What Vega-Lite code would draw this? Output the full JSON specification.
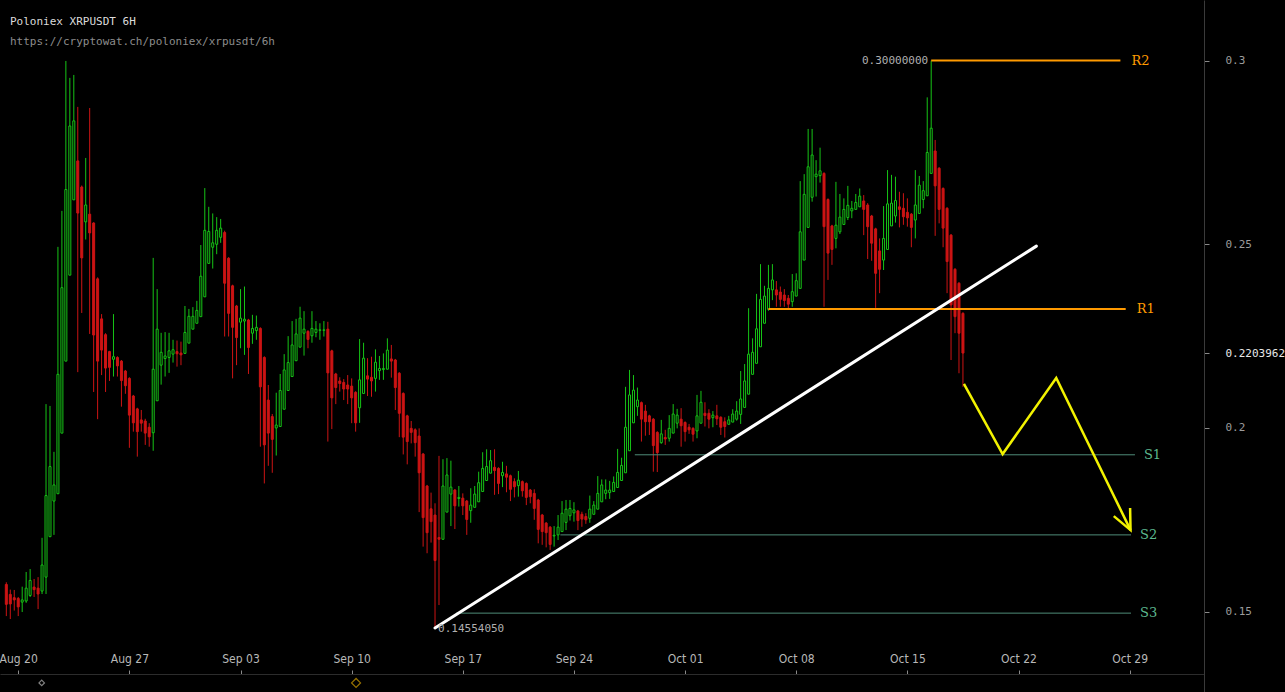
{
  "$schema": "https://vega.github.io/schema/vega-lite/v6.json",
  "width": 1204,
  "height": 692,
  "autosize": {"type": "none"},
  "padding": {"left": 0, "top": 0, "right": 81, "bottom": 0},
  "background": "#000000",
  "config": {"view": {"stroke": null}, "axis": {"grid": false}},
  "title": {
    "text": "Poloniex XRPUSDT 6H",
    "subtitle": "https://cryptowat.ch/poloniex/xrpusdt/6h",
    "anchor": "start",
    "frame": "group",
    "orient": "top",
    "offset": -47,
    "dx": 10,
    "font": "DejaVu Sans Mono",
    "fontSize": 11,
    "fontWeight": "normal",
    "color": "#dcdcdc",
    "subtitleFont": "DejaVu Sans Mono",
    "subtitleFontSize": 11,
    "subtitleColor": "#8c8c8c",
    "subtitlePadding": 9
  },
  "datasets": {
    "candles": [
      {"t":"2018-08-19T06:00Z","o":0.1574,"h":0.1580,"l":0.1488,"c":0.1520},
      {"t":"2018-08-19T12:00Z","o":0.1547,"h":0.1560,"l":0.1480,"c":0.1521},
      {"t":"2018-08-19T18:00Z","o":0.1538,"h":0.1559,"l":0.1503,"c":0.1532},
      {"t":"2018-08-20T00:00Z","o":0.1536,"h":0.1540,"l":0.1488,"c":0.1513},
      {"t":"2018-08-20T06:00Z","o":0.1526,"h":0.1568,"l":0.1499,"c":0.1532},
      {"t":"2018-08-20T12:00Z","o":0.1529,"h":0.1608,"l":0.1524,"c":0.1564},
      {"t":"2018-08-20T18:00Z","o":0.1544,"h":0.1616,"l":0.1540,"c":0.1585},
      {"t":"2018-08-21T00:00Z","o":0.1567,"h":0.1589,"l":0.1540,"c":0.1560},
      {"t":"2018-08-21T06:00Z","o":0.1564,"h":0.1594,"l":0.1507,"c":0.1548},
      {"t":"2018-08-21T12:00Z","o":0.1556,"h":0.1701,"l":0.1548,"c":0.1627},
      {"t":"2018-08-21T18:00Z","o":0.1594,"h":0.2065,"l":0.1548,"c":0.1816},
      {"t":"2018-08-22T00:00Z","o":0.1704,"h":0.2060,"l":0.1704,"c":0.1895},
      {"t":"2018-08-22T06:00Z","o":0.1801,"h":0.1935,"l":0.1709,"c":0.1845},
      {"t":"2018-08-22T12:00Z","o":0.1821,"h":0.2493,"l":0.1821,"c":0.2146},
      {"t":"2018-08-22T18:00Z","o":0.1986,"h":0.2591,"l":0.1986,"c":0.2382},
      {"t":"2018-08-23T00:00Z","o":0.2182,"h":0.2999,"l":0.2182,"c":0.2649},
      {"t":"2018-08-23T06:00Z","o":0.2416,"h":0.2953,"l":0.2416,"c":0.2822},
      {"t":"2018-08-23T12:00Z","o":0.2621,"h":0.2961,"l":0.2621,"c":0.2836},
      {"t":"2018-08-23T18:00Z","o":0.2727,"h":0.2874,"l":0.2152,"c":0.2585},
      {"t":"2018-08-24T00:00Z","o":0.2656,"h":0.2660,"l":0.2313,"c":0.2463},
      {"t":"2018-08-24T06:00Z","o":0.2561,"h":0.2735,"l":0.2513,"c":0.2607},
      {"t":"2018-08-24T12:00Z","o":0.2582,"h":0.2871,"l":0.2256,"c":0.2531},
      {"t":"2018-08-24T18:00Z","o":0.2558,"h":0.2560,"l":0.2098,"c":0.2253},
      {"t":"2018-08-25T00:00Z","o":0.2406,"h":0.2410,"l":0.2024,"c":0.2182},
      {"t":"2018-08-25T06:00Z","o":0.2297,"h":0.2310,"l":0.2144,"c":0.2212},
      {"t":"2018-08-25T12:00Z","o":0.2254,"h":0.2258,"l":0.2098,"c":0.2163},
      {"t":"2018-08-25T18:00Z","o":0.2208,"h":0.2210,"l":0.2128,"c":0.2165},
      {"t":"2018-08-26T00:00Z","o":0.2187,"h":0.2310,"l":0.2140,"c":0.2194},
      {"t":"2018-08-26T06:00Z","o":0.2192,"h":0.2195,"l":0.2140,"c":0.2169},
      {"t":"2018-08-26T12:00Z","o":0.2182,"h":0.2185,"l":0.2058,"c":0.2129},
      {"t":"2018-08-26T18:00Z","o":0.2155,"h":0.2158,"l":0.2093,"c":0.2115},
      {"t":"2018-08-27T00:00Z","o":0.2135,"h":0.2138,"l":0.1946,"c":0.2035},
      {"t":"2018-08-27T06:00Z","o":0.2087,"h":0.2090,"l":0.1990,"c":0.2014},
      {"t":"2018-08-27T12:00Z","o":0.2052,"h":0.2055,"l":0.1922,"c":0.1990},
      {"t":"2018-08-27T18:00Z","o":0.2022,"h":0.2049,"l":0.1990,"c":0.2013},
      {"t":"2018-08-28T00:00Z","o":0.2019,"h":0.2025,"l":0.1954,"c":0.1986},
      {"t":"2018-08-28T06:00Z","o":0.2002,"h":0.2013,"l":0.1949,"c":0.1976},
      {"t":"2018-08-28T12:00Z","o":0.1987,"h":0.2463,"l":0.1938,"c":0.2160},
      {"t":"2018-08-28T18:00Z","o":0.2074,"h":0.2378,"l":0.2074,"c":0.2269},
      {"t":"2018-08-29T00:00Z","o":0.2171,"h":0.2259,"l":0.2118,"c":0.2206},
      {"t":"2018-08-29T06:00Z","o":0.2189,"h":0.2261,"l":0.2140,"c":0.2196},
      {"t":"2018-08-29T12:00Z","o":0.2192,"h":0.2259,"l":0.2150,"c":0.2210},
      {"t":"2018-08-29T18:00Z","o":0.2201,"h":0.2240,"l":0.2178,"c":0.2213},
      {"t":"2018-08-30T00:00Z","o":0.2208,"h":0.2238,"l":0.2167,"c":0.2202},
      {"t":"2018-08-30T06:00Z","o":0.2204,"h":0.2235,"l":0.2171,"c":0.2199},
      {"t":"2018-08-30T12:00Z","o":0.2203,"h":0.2332,"l":0.2203,"c":0.2260},
      {"t":"2018-08-30T18:00Z","o":0.2231,"h":0.2324,"l":0.2231,"c":0.2304},
      {"t":"2018-08-31T00:00Z","o":0.2269,"h":0.2329,"l":0.2269,"c":0.2304},
      {"t":"2018-08-31T06:00Z","o":0.2285,"h":0.2346,"l":0.2285,"c":0.2320},
      {"t":"2018-08-31T12:00Z","o":0.2303,"h":0.2498,"l":0.2303,"c":0.2413},
      {"t":"2018-08-31T18:00Z","o":0.2357,"h":0.2653,"l":0.2357,"c":0.2538},
      {"t":"2018-09-01T00:00Z","o":0.2448,"h":0.2602,"l":0.2448,"c":0.2535},
      {"t":"2018-09-01T06:00Z","o":0.2492,"h":0.2584,"l":0.2434,"c":0.2504},
      {"t":"2018-09-01T12:00Z","o":0.2500,"h":0.2574,"l":0.2473,"c":0.2538},
      {"t":"2018-09-01T18:00Z","o":0.2519,"h":0.2569,"l":0.2504,"c":0.2544},
      {"t":"2018-09-02T00:00Z","o":0.2532,"h":0.2537,"l":0.2249,"c":0.2394},
      {"t":"2018-09-02T06:00Z","o":0.2462,"h":0.2465,"l":0.2249,"c":0.2312},
      {"t":"2018-09-02T12:00Z","o":0.2387,"h":0.2390,"l":0.2135,"c":0.2274},
      {"t":"2018-09-02T18:00Z","o":0.2332,"h":0.2335,"l":0.2171,"c":0.2246},
      {"t":"2018-09-03T00:00Z","o":0.2288,"h":0.2378,"l":0.2217,"c":0.2299},
      {"t":"2018-09-03T06:00Z","o":0.2291,"h":0.2385,"l":0.2199,"c":0.2296},
      {"t":"2018-09-03T12:00Z","o":0.2294,"h":0.2297,"l":0.2147,"c":0.2219},
      {"t":"2018-09-03T18:00Z","o":0.2258,"h":0.2308,"l":0.2229,"c":0.2271},
      {"t":"2018-09-04T00:00Z","o":0.2265,"h":0.2306,"l":0.2240,"c":0.2274},
      {"t":"2018-09-04T06:00Z","o":0.2271,"h":0.2274,"l":0.1949,"c":0.2112},
      {"t":"2018-09-04T12:00Z","o":0.2192,"h":0.2195,"l":0.1849,"c":0.1954},
      {"t":"2018-09-04T18:00Z","o":0.2076,"h":0.2117,"l":0.1897,"c":0.1986},
      {"t":"2018-09-05T00:00Z","o":0.2031,"h":0.2038,"l":0.1878,"c":0.1969},
      {"t":"2018-09-05T06:00Z","o":0.2000,"h":0.2096,"l":0.1925,"c":0.2008},
      {"t":"2018-09-05T12:00Z","o":0.2004,"h":0.2147,"l":0.2004,"c":0.2102},
      {"t":"2018-09-05T18:00Z","o":0.2051,"h":0.2201,"l":0.2051,"c":0.2158},
      {"t":"2018-09-06T00:00Z","o":0.2102,"h":0.2250,"l":0.2102,"c":0.2178},
      {"t":"2018-09-06T06:00Z","o":0.2140,"h":0.2291,"l":0.2140,"c":0.2226},
      {"t":"2018-09-06T12:00Z","o":0.2183,"h":0.2297,"l":0.2183,"c":0.2256},
      {"t":"2018-09-06T18:00Z","o":0.2220,"h":0.2330,"l":0.2220,"c":0.2299},
      {"t":"2018-09-07T00:00Z","o":0.2258,"h":0.2318,"l":0.2197,"c":0.2269},
      {"t":"2018-09-07T06:00Z","o":0.2263,"h":0.2266,"l":0.2217,"c":0.2241},
      {"t":"2018-09-07T12:00Z","o":0.2251,"h":0.2318,"l":0.2232,"c":0.2271},
      {"t":"2018-09-07T18:00Z","o":0.2260,"h":0.2291,"l":0.2247,"c":0.2269},
      {"t":"2018-09-08T00:00Z","o":0.2266,"h":0.2285,"l":0.2240,"c":0.2267},
      {"t":"2018-09-08T06:00Z","o":0.2266,"h":0.2291,"l":0.2249,"c":0.2267},
      {"t":"2018-09-08T12:00Z","o":0.2269,"h":0.2289,"l":0.1963,"c":0.2150},
      {"t":"2018-09-08T18:00Z","o":0.2210,"h":0.2213,"l":0.1997,"c":0.2082},
      {"t":"2018-09-09T00:00Z","o":0.2147,"h":0.2150,"l":0.2065,"c":0.2110},
      {"t":"2018-09-09T06:00Z","o":0.2128,"h":0.2138,"l":0.2099,"c":0.2121},
      {"t":"2018-09-09T12:00Z","o":0.2124,"h":0.2133,"l":0.2076,"c":0.2106},
      {"t":"2018-09-09T18:00Z","o":0.2117,"h":0.2144,"l":0.2065,"c":0.2106},
      {"t":"2018-09-10T00:00Z","o":0.2114,"h":0.2135,"l":0.2013,"c":0.2082},
      {"t":"2018-09-10T06:00Z","o":0.2097,"h":0.2100,"l":0.1990,"c":0.2014},
      {"t":"2018-09-10T12:00Z","o":0.2055,"h":0.2242,"l":0.2014,"c":0.2131},
      {"t":"2018-09-10T18:00Z","o":0.2094,"h":0.2232,"l":0.2094,"c":0.2190},
      {"t":"2018-09-11T00:00Z","o":0.2142,"h":0.2190,"l":0.2087,"c":0.2133},
      {"t":"2018-09-11T06:00Z","o":0.2138,"h":0.2194,"l":0.2085,"c":0.2128},
      {"t":"2018-09-11T12:00Z","o":0.2135,"h":0.2214,"l":0.2099,"c":0.2179},
      {"t":"2018-09-11T18:00Z","o":0.2156,"h":0.2196,"l":0.2131,"c":0.2162},
      {"t":"2018-09-12T00:00Z","o":0.2159,"h":0.2203,"l":0.2131,"c":0.2162},
      {"t":"2018-09-12T06:00Z","o":0.2160,"h":0.2244,"l":0.2160,"c":0.2212},
      {"t":"2018-09-12T12:00Z","o":0.2188,"h":0.2226,"l":0.2137,"c":0.2182},
      {"t":"2018-09-12T18:00Z","o":0.2185,"h":0.2188,"l":0.2049,"c":0.2110},
      {"t":"2018-09-13T00:00Z","o":0.2149,"h":0.2152,"l":0.1975,"c":0.2040},
      {"t":"2018-09-13T06:00Z","o":0.2094,"h":0.2097,"l":0.1928,"c":0.1975},
      {"t":"2018-09-13T12:00Z","o":0.2033,"h":0.2036,"l":0.1901,"c":0.1963},
      {"t":"2018-09-13T18:00Z","o":0.1999,"h":0.2019,"l":0.1958,"c":0.1988},
      {"t":"2018-09-14T00:00Z","o":0.1995,"h":0.1999,"l":0.1922,"c":0.1960},
      {"t":"2018-09-14T06:00Z","o":0.1978,"h":0.1999,"l":0.1771,"c":0.1878},
      {"t":"2018-09-14T12:00Z","o":0.1929,"h":0.1932,"l":0.1677,"c":0.1756},
      {"t":"2018-09-14T18:00Z","o":0.1842,"h":0.1845,"l":0.1659,"c":0.1715},
      {"t":"2018-09-15T00:00Z","o":0.1780,"h":0.1824,"l":0.1688,"c":0.1745},
      {"t":"2018-09-15T06:00Z","o":0.1763,"h":0.1795,"l":0.1455405,"c":0.1639},
      {"t":"2018-09-15T12:00Z","o":0.1702,"h":0.1924,"l":0.1518,"c":0.1697},
      {"t":"2018-09-15T18:00Z","o":0.1697,"h":0.1915,"l":0.1697,"c":0.1842},
      {"t":"2018-09-16T00:00Z","o":0.1771,"h":0.1918,"l":0.1771,"c":0.1872},
      {"t":"2018-09-16T06:00Z","o":0.1820,"h":0.1911,"l":0.1733,"c":0.1839},
      {"t":"2018-09-16T12:00Z","o":0.1831,"h":0.1834,"l":0.1725,"c":0.1788},
      {"t":"2018-09-16T18:00Z","o":0.1808,"h":0.1842,"l":0.1786,"c":0.1811},
      {"t":"2018-09-17T00:00Z","o":0.1809,"h":0.1822,"l":0.1763,"c":0.1788},
      {"t":"2018-09-17T06:00Z","o":0.1801,"h":0.1804,"l":0.1709,"c":0.1751},
      {"t":"2018-09-17T12:00Z","o":0.1775,"h":0.1836,"l":0.1742,"c":0.1790},
      {"t":"2018-09-17T18:00Z","o":0.1784,"h":0.1842,"l":0.1784,"c":0.1820},
      {"t":"2018-09-18T00:00Z","o":0.1799,"h":0.1881,"l":0.1799,"c":0.1851},
      {"t":"2018-09-18T06:00Z","o":0.1827,"h":0.1934,"l":0.1827,"c":0.1890},
      {"t":"2018-09-18T12:00Z","o":0.1857,"h":0.1942,"l":0.1857,"c":0.1895},
      {"t":"2018-09-18T18:00Z","o":0.1877,"h":0.1940,"l":0.1877,"c":0.1911},
      {"t":"2018-09-19T00:00Z","o":0.1893,"h":0.1942,"l":0.1818,"c":0.1884},
      {"t":"2018-09-19T06:00Z","o":0.1890,"h":0.1893,"l":0.1820,"c":0.1849},
      {"t":"2018-09-19T12:00Z","o":0.1870,"h":0.1908,"l":0.1839,"c":0.1879},
      {"t":"2018-09-19T18:00Z","o":0.1875,"h":0.1897,"l":0.1825,"c":0.1866},
      {"t":"2018-09-20T00:00Z","o":0.1870,"h":0.1873,"l":0.1801,"c":0.1833},
      {"t":"2018-09-20T06:00Z","o":0.1854,"h":0.1863,"l":0.1811,"c":0.1840},
      {"t":"2018-09-20T12:00Z","o":0.1843,"h":0.1883,"l":0.1813,"c":0.1858},
      {"t":"2018-09-20T18:00Z","o":0.1854,"h":0.1857,"l":0.1813,"c":0.1829},
      {"t":"2018-09-21T00:00Z","o":0.1849,"h":0.1852,"l":0.1790,"c":0.1811},
      {"t":"2018-09-21T06:00Z","o":0.1831,"h":0.1834,"l":0.1795,"c":0.1813},
      {"t":"2018-09-21T12:00Z","o":0.1822,"h":0.1833,"l":0.1750,"c":0.1781},
      {"t":"2018-09-21T18:00Z","o":0.1804,"h":0.1807,"l":0.1686,"c":0.1724},
      {"t":"2018-09-22T00:00Z","o":0.1763,"h":0.1766,"l":0.1682,"c":0.1718},
      {"t":"2018-09-22T06:00Z","o":0.1741,"h":0.1744,"l":0.1675,"c":0.1715},
      {"t":"2018-09-22T12:00Z","o":0.1730,"h":0.1733,"l":0.1668,"c":0.1683},
      {"t":"2018-09-22T18:00Z","o":0.1706,"h":0.1733,"l":0.1677,"c":0.1708},
      {"t":"2018-09-23T00:00Z","o":0.1709,"h":0.1763,"l":0.1695,"c":0.1730},
      {"t":"2018-09-23T06:00Z","o":0.1718,"h":0.1801,"l":0.1718,"c":0.1768},
      {"t":"2018-09-23T12:00Z","o":0.1743,"h":0.1804,"l":0.1722,"c":0.1779},
      {"t":"2018-09-23T18:00Z","o":0.1761,"h":0.1804,"l":0.1748,"c":0.1781},
      {"t":"2018-09-24T00:00Z","o":0.1769,"h":0.1798,"l":0.1745,"c":0.1777},
      {"t":"2018-09-24T06:00Z","o":0.1774,"h":0.1777,"l":0.1722,"c":0.1748},
      {"t":"2018-09-24T12:00Z","o":0.1765,"h":0.1772,"l":0.1731,"c":0.1752},
      {"t":"2018-09-24T18:00Z","o":0.1759,"h":0.1768,"l":0.1739,"c":0.1750},
      {"t":"2018-09-25T00:00Z","o":0.1754,"h":0.1816,"l":0.1742,"c":0.1779},
      {"t":"2018-09-25T06:00Z","o":0.1765,"h":0.1801,"l":0.1765,"c":0.1790},
      {"t":"2018-09-25T12:00Z","o":0.1779,"h":0.1869,"l":0.1779,"c":0.1822},
      {"t":"2018-09-25T18:00Z","o":0.1799,"h":0.1860,"l":0.1799,"c":0.1845},
      {"t":"2018-09-26T00:00Z","o":0.1822,"h":0.1860,"l":0.1806,"c":0.1831},
      {"t":"2018-09-26T06:00Z","o":0.1824,"h":0.1856,"l":0.1807,"c":0.1831},
      {"t":"2018-09-26T12:00Z","o":0.1827,"h":0.1868,"l":0.1827,"c":0.1852},
      {"t":"2018-09-26T18:00Z","o":0.1838,"h":0.1943,"l":0.1838,"c":0.1879},
      {"t":"2018-09-27T00:00Z","o":0.1857,"h":0.1919,"l":0.1857,"c":0.1898},
      {"t":"2018-09-27T06:00Z","o":0.1878,"h":0.2112,"l":0.1878,"c":0.2002},
      {"t":"2018-09-27T12:00Z","o":0.1938,"h":0.2158,"l":0.1938,"c":0.2090},
      {"t":"2018-09-27T18:00Z","o":0.2014,"h":0.2144,"l":0.2014,"c":0.2103},
      {"t":"2018-09-28T00:00Z","o":0.2058,"h":0.2110,"l":0.2033,"c":0.2076},
      {"t":"2018-09-28T06:00Z","o":0.2069,"h":0.2072,"l":0.1963,"c":0.2024},
      {"t":"2018-09-28T12:00Z","o":0.2046,"h":0.2063,"l":0.1979,"c":0.2017},
      {"t":"2018-09-28T18:00Z","o":0.2033,"h":0.2036,"l":0.1981,"c":0.2017},
      {"t":"2018-09-29T00:00Z","o":0.2024,"h":0.2027,"l":0.1881,"c":0.1952},
      {"t":"2018-09-29T06:00Z","o":0.1988,"h":0.1991,"l":0.1880,"c":0.1933},
      {"t":"2018-09-29T12:00Z","o":0.1960,"h":0.2022,"l":0.1957,"c":0.1984},
      {"t":"2018-09-29T18:00Z","o":0.1974,"h":0.1995,"l":0.1954,"c":0.1970},
      {"t":"2018-09-30T00:00Z","o":0.1972,"h":0.2035,"l":0.1963,"c":0.1999},
      {"t":"2018-09-30T06:00Z","o":0.1986,"h":0.2065,"l":0.1986,"c":0.2038},
      {"t":"2018-09-30T12:00Z","o":0.2013,"h":0.2052,"l":0.1999,"c":0.2035},
      {"t":"2018-09-30T18:00Z","o":0.2024,"h":0.2054,"l":0.1949,"c":0.2006},
      {"t":"2018-10-01T00:00Z","o":0.2015,"h":0.2018,"l":0.1963,"c":0.1990},
      {"t":"2018-10-01T06:00Z","o":0.2002,"h":0.2011,"l":0.1984,"c":0.1995},
      {"t":"2018-10-01T12:00Z","o":0.1999,"h":0.2002,"l":0.1963,"c":0.1983},
      {"t":"2018-10-01T18:00Z","o":0.1992,"h":0.2090,"l":0.1972,"c":0.2033},
      {"t":"2018-10-02T00:00Z","o":0.2013,"h":0.2101,"l":0.2013,"c":0.2070},
      {"t":"2018-10-02T06:00Z","o":0.2040,"h":0.2070,"l":0.2004,"c":0.2034},
      {"t":"2018-10-02T12:00Z","o":0.2040,"h":0.2051,"l":0.1999,"c":0.2024},
      {"t":"2018-10-02T18:00Z","o":0.2028,"h":0.2046,"l":0.2002,"c":0.2035},
      {"t":"2018-10-03T00:00Z","o":0.2033,"h":0.2063,"l":0.2008,"c":0.2025},
      {"t":"2018-10-03T06:00Z","o":0.2029,"h":0.2032,"l":0.1981,"c":0.2002},
      {"t":"2018-10-03T12:00Z","o":0.2017,"h":0.2029,"l":0.1974,"c":0.2004},
      {"t":"2018-10-03T18:00Z","o":0.2010,"h":0.2033,"l":0.2010,"c":0.2022},
      {"t":"2018-10-04T00:00Z","o":0.2016,"h":0.2051,"l":0.2016,"c":0.2038},
      {"t":"2018-10-04T06:00Z","o":0.2024,"h":0.2073,"l":0.2020,"c":0.2046},
      {"t":"2018-10-04T12:00Z","o":0.2037,"h":0.2155,"l":0.2011,"c":0.2079},
      {"t":"2018-10-04T18:00Z","o":0.2056,"h":0.2174,"l":0.2056,"c":0.2128},
      {"t":"2018-10-05T00:00Z","o":0.2092,"h":0.2326,"l":0.2092,"c":0.2201},
      {"t":"2018-10-05T06:00Z","o":0.2146,"h":0.2244,"l":0.2146,"c":0.2206},
      {"t":"2018-10-05T12:00Z","o":0.2176,"h":0.2365,"l":0.2176,"c":0.2270},
      {"t":"2018-10-05T18:00Z","o":0.2221,"h":0.2446,"l":0.2221,"c":0.2350},
      {"t":"2018-10-06T00:00Z","o":0.2285,"h":0.2387,"l":0.2285,"c":0.2359},
      {"t":"2018-10-06T06:00Z","o":0.2323,"h":0.2444,"l":0.2319,"c":0.2380},
      {"t":"2018-10-06T12:00Z","o":0.2376,"h":0.2446,"l":0.2348,"c":0.2403},
      {"t":"2018-10-06T18:00Z","o":0.2376,"h":0.2400,"l":0.2330,"c":0.2362},
      {"t":"2018-10-07T00:00Z","o":0.2370,"h":0.2385,"l":0.2330,"c":0.2350},
      {"t":"2018-10-07T06:00Z","o":0.2362,"h":0.2378,"l":0.2330,"c":0.2347},
      {"t":"2018-10-07T12:00Z","o":0.2353,"h":0.2362,"l":0.2326,"c":0.2337},
      {"t":"2018-10-07T18:00Z","o":0.2344,"h":0.2419,"l":0.2330,"c":0.2371},
      {"t":"2018-10-08T00:00Z","o":0.2359,"h":0.2421,"l":0.2359,"c":0.2401},
      {"t":"2018-10-08T06:00Z","o":0.2380,"h":0.2672,"l":0.2380,"c":0.2534},
      {"t":"2018-10-08T12:00Z","o":0.2457,"h":0.2691,"l":0.2457,"c":0.2636},
      {"t":"2018-10-08T18:00Z","o":0.2546,"h":0.2814,"l":0.2546,"c":0.2711},
      {"t":"2018-10-09T00:00Z","o":0.2628,"h":0.2814,"l":0.2616,"c":0.2743},
      {"t":"2018-10-09T06:00Z","o":0.2684,"h":0.2729,"l":0.2630,"c":0.2691},
      {"t":"2018-10-09T12:00Z","o":0.2687,"h":0.2763,"l":0.2668,"c":0.2700},
      {"t":"2018-10-09T18:00Z","o":0.2693,"h":0.2696,"l":0.2330,"c":0.2548},
      {"t":"2018-10-10T00:00Z","o":0.2622,"h":0.2625,"l":0.2403,"c":0.2476},
      {"t":"2018-10-10T06:00Z","o":0.2550,"h":0.2553,"l":0.2444,"c":0.2486},
      {"t":"2018-10-10T12:00Z","o":0.2516,"h":0.2670,"l":0.2489,"c":0.2552},
      {"t":"2018-10-10T18:00Z","o":0.2534,"h":0.2637,"l":0.2528,"c":0.2574},
      {"t":"2018-10-11T00:00Z","o":0.2554,"h":0.2625,"l":0.2554,"c":0.2595},
      {"t":"2018-10-11T06:00Z","o":0.2573,"h":0.2659,"l":0.2566,"c":0.2606},
      {"t":"2018-10-11T12:00Z","o":0.2591,"h":0.2618,"l":0.2571,"c":0.2598},
      {"t":"2018-10-11T18:00Z","o":0.2595,"h":0.2637,"l":0.2595,"c":0.2614},
      {"t":"2018-10-12T00:00Z","o":0.2602,"h":0.2652,"l":0.2602,"c":0.2631},
      {"t":"2018-10-12T06:00Z","o":0.2618,"h":0.2634,"l":0.2525,"c":0.2595},
      {"t":"2018-10-12T12:00Z","o":0.2607,"h":0.2612,"l":0.2460,"c":0.2548},
      {"t":"2018-10-12T18:00Z","o":0.2577,"h":0.2580,"l":0.2455,"c":0.2503},
      {"t":"2018-10-13T00:00Z","o":0.2542,"h":0.2545,"l":0.2327,"c":0.2421},
      {"t":"2018-10-13T06:00Z","o":0.2482,"h":0.2516,"l":0.2367,"c":0.2432},
      {"t":"2018-10-13T12:00Z","o":0.2457,"h":0.2604,"l":0.2430,"c":0.2516},
      {"t":"2018-10-13T18:00Z","o":0.2486,"h":0.2702,"l":0.2486,"c":0.2610},
      {"t":"2018-10-14T00:00Z","o":0.2550,"h":0.2689,"l":0.2550,"c":0.2612},
      {"t":"2018-10-14T06:00Z","o":0.2577,"h":0.2684,"l":0.2559,"c":0.2619},
      {"t":"2018-10-14T12:00Z","o":0.2602,"h":0.2643,"l":0.2546,"c":0.2595},
      {"t":"2018-10-14T18:00Z","o":0.2598,"h":0.2639,"l":0.2553,"c":0.2575},
      {"t":"2018-10-15T00:00Z","o":0.2587,"h":0.2625,"l":0.2548,"c":0.2572},
      {"t":"2018-10-15T06:00Z","o":0.2582,"h":0.2585,"l":0.2492,"c":0.2546},
      {"t":"2018-10-15T12:00Z","o":0.2566,"h":0.2702,"l":0.2516,"c":0.2607},
      {"t":"2018-10-15T18:00Z","o":0.2584,"h":0.2686,"l":0.2584,"c":0.2661},
      {"t":"2018-10-16T00:00Z","o":0.2622,"h":0.2672,"l":0.2598,"c":0.2646},
      {"t":"2018-10-16T06:00Z","o":0.2632,"h":0.2900,"l":0.2632,"c":0.2750},
      {"t":"2018-10-16T12:00Z","o":0.2693,"h":0.3000,"l":0.2693,"c":0.2816},
      {"t":"2018-10-16T18:00Z","o":0.2754,"h":0.2784,"l":0.2523,"c":0.2659},
      {"t":"2018-10-17T00:00Z","o":0.2707,"h":0.2710,"l":0.2557,"c":0.2595},
      {"t":"2018-10-17T06:00Z","o":0.2652,"h":0.2655,"l":0.2492,"c":0.2544},
      {"t":"2018-10-17T12:00Z","o":0.2598,"h":0.2601,"l":0.2367,"c":0.2453},
      {"t":"2018-10-17T18:00Z","o":0.2525,"h":0.2528,"l":0.2185,"c":0.2335},
      {"t":"2018-10-18T00:00Z","o":0.2432,"h":0.2435,"l":0.2258,"c":0.2303},
      {"t":"2018-10-18T06:00Z","o":0.2394,"h":0.2397,"l":0.2149,"c":0.2258},
      {"t":"2018-10-18T12:00Z","o":0.2312,"h":0.2315,"l":0.2112,"c":0.2203962}
    ],
    "resistance": [
      {"name":"R2","p":0.3,"start":"2018-10-16T12:00Z","end":"2018-10-28T10:00Z"},
      {"name":"R1","p":0.2324,"start":"2018-10-06T06:00Z","end":"2018-10-28T18:00Z"}
    ],
    "support": [
      {"name":"S1","p":0.1927,"start":"2018-09-27T20:00Z","end":"2018-10-29T08:00Z"},
      {"name":"S2","p":0.1709,"start":"2018-09-23T03:30Z","end":"2018-10-29T02:00Z"},
      {"name":"S3","p":0.1496,"start":"2018-09-16T14:00Z","end":"2018-10-29T02:00Z"}
    ],
    "trend": [
      {"t":"2018-09-15T06:00Z","p":0.1455405},
      {"t":"2018-10-23T03:00Z","p":0.2495}
    ],
    "projection": [
      {"t":"2018-10-18T13:30Z","p":0.2120,"step":1},
      {"t":"2018-10-21T00:00Z","p":0.1929,"step":2},
      {"t":"2018-10-24T09:00Z","p":0.2136,"step":3},
      {"t":"2018-10-29T01:20Z","p":0.1722,"step":4}
    ],
    "arrowhead": [
      {"t":"2018-10-28T00:00Z","p":0.1760,"step":1},
      {"t":"2018-10-29T01:20Z","p":0.1722,"step":2},
      {"t":"2018-10-29T00:40Z","p":0.1782,"step":3}
    ],
    "peak": [{"t":"2018-10-16T12:00Z","p":0.3}],
    "trough": [{"t":"2018-09-15T06:00Z","p":0.1455405}],
    "events": [
      {"t":"2018-08-21T11:30Z","kind":"minor"},
      {"t":"2018-09-10T06:40Z","kind":"major"}
    ]
  },
  "layer": [
    {
      "data": {"name": "candles"},
      "mark": {"type": "rule", "strokeWidth": 1},
      "encoding": {
        "x": {
          "field": "t", "type": "temporal", "title": null,
          "scale": {"type": "utc", "domain": [
            {"year": 2018, "month": 8, "date": 19, "hours": 4, "utc": true},
            {"year": 2018, "month": 11, "date": 2, "hours": 8, "minutes": 48, "utc": true}
          ]},
          "axis": {
            "orient": "top",
            "offset": -674,
            "values": [
              {"year": 2018, "month": 8, "date": 20, "utc": true},
              {"year": 2018, "month": 8, "date": 27, "utc": true},
              {"year": 2018, "month": 9, "date": 3, "utc": true},
              {"year": 2018, "month": 9, "date": 10, "utc": true},
              {"year": 2018, "month": 9, "date": 17, "utc": true},
              {"year": 2018, "month": 9, "date": 24, "utc": true},
              {"year": 2018, "month": 10, "date": 1, "utc": true},
              {"year": 2018, "month": 10, "date": 8, "utc": true},
              {"year": 2018, "month": 10, "date": 15, "utc": true},
              {"year": 2018, "month": 10, "date": 22, "utc": true},
              {"year": 2018, "month": 10, "date": 29, "utc": true}
            ],
            "format": "%b %d",
            "labelFont": "Liberation Sans Narrow, DejaVu Sans Condensed, sans-serif",
            "labelFontSize": 12,
            "labelColor": "#b8b8b8",
            "labelPadding": 5,
            "labelFlush": false,
            "labelOverlap": false,
            "tickColor": "#8a8a8a",
            "tickSize": 4,
            "domainColor": "#2c2c2c",
            "grid": false
          }
        },
        "y": {
          "field": "l", "type": "quantitative", "title": null,
          "scale": {"domain": [0.12813, 0.3165], "nice": false, "zero": false},
          "axis": {
            "orient": "right",
            "values": [0.15, 0.2, 0.2203962, 0.25, 0.3],
            "labelExpr": "toString(datum.value)",
            "labelFont": "DejaVu Sans Mono",
            "labelFontSize": 11,
            "labelColor": {"condition": {"test": "datum.value == 0.2203962", "value": "#e8e8e8"}, "value": "#9c9c9c"},
            "labelPadding": 16,
            "labelOverlap": false,
            "labelBound": false,
            "tickColor": "#8a8a8a",
            "tickSize": 5,
            "domainColor": "#3a3a3a",
            "grid": false
          }
        },
        "y2": {"field": "h"},
        "color": {"condition": {"test": "datum.c >= datum.o", "value": "#16c416"}, "value": "#cc1414"}
      }
    },
    {
      "data": {"name": "candles"},
      "mark": {"type": "bar", "size": 2, "strokeWidth": 1},
      "encoding": {
        "x": {"field": "t", "type": "temporal", "title": null},
        "y": {"field": "o", "type": "quantitative", "title": null},
        "y2": {"field": "c"},
        "fill": {"condition": {"test": "datum.c >= datum.o", "value": "#000000"}, "value": "#cc1414"},
        "stroke": {"condition": {"test": "datum.c >= datum.o", "value": "#16c416"}, "value": "#cc1414"}
      }
    },
    {
      "mark": {"type": "rule", "color": "#2e2e2e", "strokeWidth": 1},
      "encoding": {
        "x": {"datum": {"year": 2018, "month": 8, "date": 19, "hours": 4, "utc": true}, "type": "temporal", "title": null},
        "x2": {"datum": {"year": 2018, "month": 11, "date": 9, "utc": true}},
        "y": {"datum": 0.1412, "type": "quantitative", "title": null}
      }
    },
    {
      "data": {"name": "support"},
      "mark": {"type": "rule", "color": "#4f8c78", "strokeWidth": 1},
      "encoding": {
        "x": {"field": "start", "type": "temporal", "title": null},
        "x2": {"field": "end"},
        "y": {"field": "p", "type": "quantitative", "title": null}
      }
    },
    {
      "data": {"name": "support"},
      "mark": {"type": "text", "align": "left", "baseline": "middle", "dx": 9, "font": "DejaVu Serif", "fontSize": 13, "color": "#5cb88f"},
      "encoding": {
        "x": {"field": "end", "type": "temporal", "title": null},
        "y": {"field": "p", "type": "quantitative", "title": null},
        "text": {"field": "name"}
      }
    },
    {
      "data": {"name": "resistance"},
      "mark": {"type": "rule", "color": "#ff9a00", "strokeWidth": 2},
      "encoding": {
        "x": {"field": "start", "type": "temporal", "title": null},
        "x2": {"field": "end"},
        "y": {"field": "p", "type": "quantitative", "title": null}
      }
    },
    {
      "data": {"name": "resistance"},
      "mark": {"type": "text", "align": "left", "baseline": "middle", "dx": 11, "font": "DejaVu Serif", "fontSize": 13, "color": "#ff9a00"},
      "encoding": {
        "x": {"field": "end", "type": "temporal", "title": null},
        "y": {"field": "p", "type": "quantitative", "title": null},
        "text": {"field": "name"}
      }
    },
    {
      "data": {"name": "trend"},
      "mark": {"type": "line", "color": "#ffffff", "strokeWidth": 3, "strokeCap": "round"},
      "encoding": {
        "x": {"field": "t", "type": "temporal", "title": null},
        "y": {"field": "p", "type": "quantitative", "title": null}
      }
    },
    {
      "data": {"name": "projection"},
      "mark": {"type": "line", "color": "#f2f200", "strokeWidth": 2.5, "strokeJoin": "miter"},
      "encoding": {
        "x": {"field": "t", "type": "temporal", "title": null},
        "y": {"field": "p", "type": "quantitative", "title": null},
        "order": {"field": "step"}
      }
    },
    {
      "data": {"name": "arrowhead"},
      "mark": {"type": "line", "color": "#f2f200", "strokeWidth": 2.5, "strokeJoin": "miter"},
      "encoding": {
        "x": {"field": "t", "type": "temporal", "title": null},
        "y": {"field": "p", "type": "quantitative", "title": null},
        "order": {"field": "step"}
      }
    },
    {
      "data": {"name": "peak"},
      "mark": {"type": "text", "align": "right", "baseline": "middle", "dx": -3, "font": "DejaVu Sans Mono", "fontSize": 11, "color": "#b0b0b0"},
      "encoding": {
        "x": {"field": "t", "type": "temporal", "title": null},
        "y": {"field": "p", "type": "quantitative", "title": null},
        "text": {"field": "p", "format": ".8f"}
      }
    },
    {
      "data": {"name": "trough"},
      "mark": {"type": "text", "align": "left", "baseline": "middle", "dx": 3, "dy": 1, "font": "DejaVu Sans Mono", "fontSize": 11, "color": "#b0b0b0"},
      "encoding": {
        "x": {"field": "t", "type": "temporal", "title": null},
        "y": {"field": "p", "type": "quantitative", "title": null},
        "text": {"field": "p", "format": ".8f"}
      }
    },
    {
      "data": {"name": "events"},
      "mark": {"type": "point", "shape": "diamond", "filled": false, "strokeWidth": 1.2},
      "encoding": {
        "x": {"field": "t", "type": "temporal", "title": null},
        "y": {"datum": 0.1306, "type": "quantitative", "title": null},
        "color": {"field": "kind", "type": "nominal", "legend": null, "scale": {"domain": ["minor", "major"], "range": ["#b8b8b8", "#d9a400"]}},
        "size": {"field": "kind", "type": "nominal", "legend": null, "scale": {"domain": ["minor", "major"], "range": [30, 80]}}
      }
    }
  ]
}
